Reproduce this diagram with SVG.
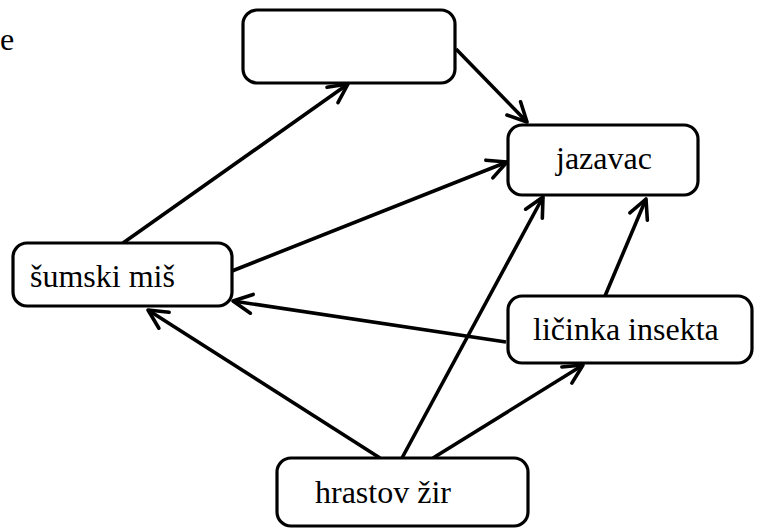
<svg xmlns="http://www.w3.org/2000/svg" width="762" height="529" viewBox="0 0 762 529">
<style>
.box{fill:#fff;stroke:#000;stroke-width:3.2}
.lbl{font-family:'Liberation Serif','DejaVu Serif',serif;font-size:32px;fill:#000}
.edge{stroke:#000;stroke-width:3.6;fill:none}
</style>
<defs>
<marker id="arr" markerUnits="userSpaceOnUse" viewBox="-25 -15 30 30" markerWidth="30" markerHeight="30" refX="0" refY="0" orient="auto">
<path d="M-19,-9.5 L0,0 L-19,9.5" fill="none" stroke="#000" stroke-width="3.6" stroke-linecap="round" stroke-linejoin="round"/>
</marker>
</defs>
<rect width="762" height="529" fill="#fff"/>
<text class="lbl" x="0" y="50" font-family="Liberation Serif, serif">e</text>
<g id="connectors">
<line class="edge" x1="123" y1="243" x2="348" y2="84" marker-end="url(#arr)"/>
<line class="edge" x1="456" y1="49" x2="527" y2="122" marker-end="url(#arr)"/>
<line class="edge" x1="232" y1="271" x2="507" y2="162" marker-end="url(#arr)"/>
<line class="edge" x1="402" y1="458" x2="543" y2="197" marker-end="url(#arr)"/>
<line class="edge" x1="605" y1="296" x2="646" y2="199" marker-end="url(#arr)"/>
<line class="edge" x1="506" y1="342" x2="233" y2="301" marker-end="url(#arr)"/>
<line class="edge" x1="380" y1="458" x2="148" y2="310" marker-end="url(#arr)"/>
<line class="edge" x1="433" y1="458" x2="583" y2="365" marker-end="url(#arr)"/>
</g>
<g id="node-top">
<rect class="box" x="243" y="10" width="212" height="73" rx="14"/>
</g>
<g id="node-jazavac">
<rect class="box" x="508" y="125" width="190" height="70" rx="14"/>
<text class="lbl" x="556" y="169" font-family="Liberation Serif, serif">jazavac</text>
</g>
<g id="node-sumski-mis">
<rect class="box" x="13" y="243" width="219" height="63" rx="14"/>
<text class="lbl" x="30" y="287" font-family="Liberation Serif, serif">šumski miš</text>
</g>
<g id="node-licinka">
<rect class="box" x="508" y="296" width="244" height="67" rx="14"/>
<text class="lbl" x="533" y="340" font-family="Liberation Serif, serif">ličinka insekta</text>
</g>
<g id="node-hrastov-zir">
<rect class="box" x="277" y="458" width="251" height="68" rx="14"/>
<text class="lbl" x="315" y="503" font-family="Liberation Serif, serif">hrastov žir</text>
</g>
</svg>
